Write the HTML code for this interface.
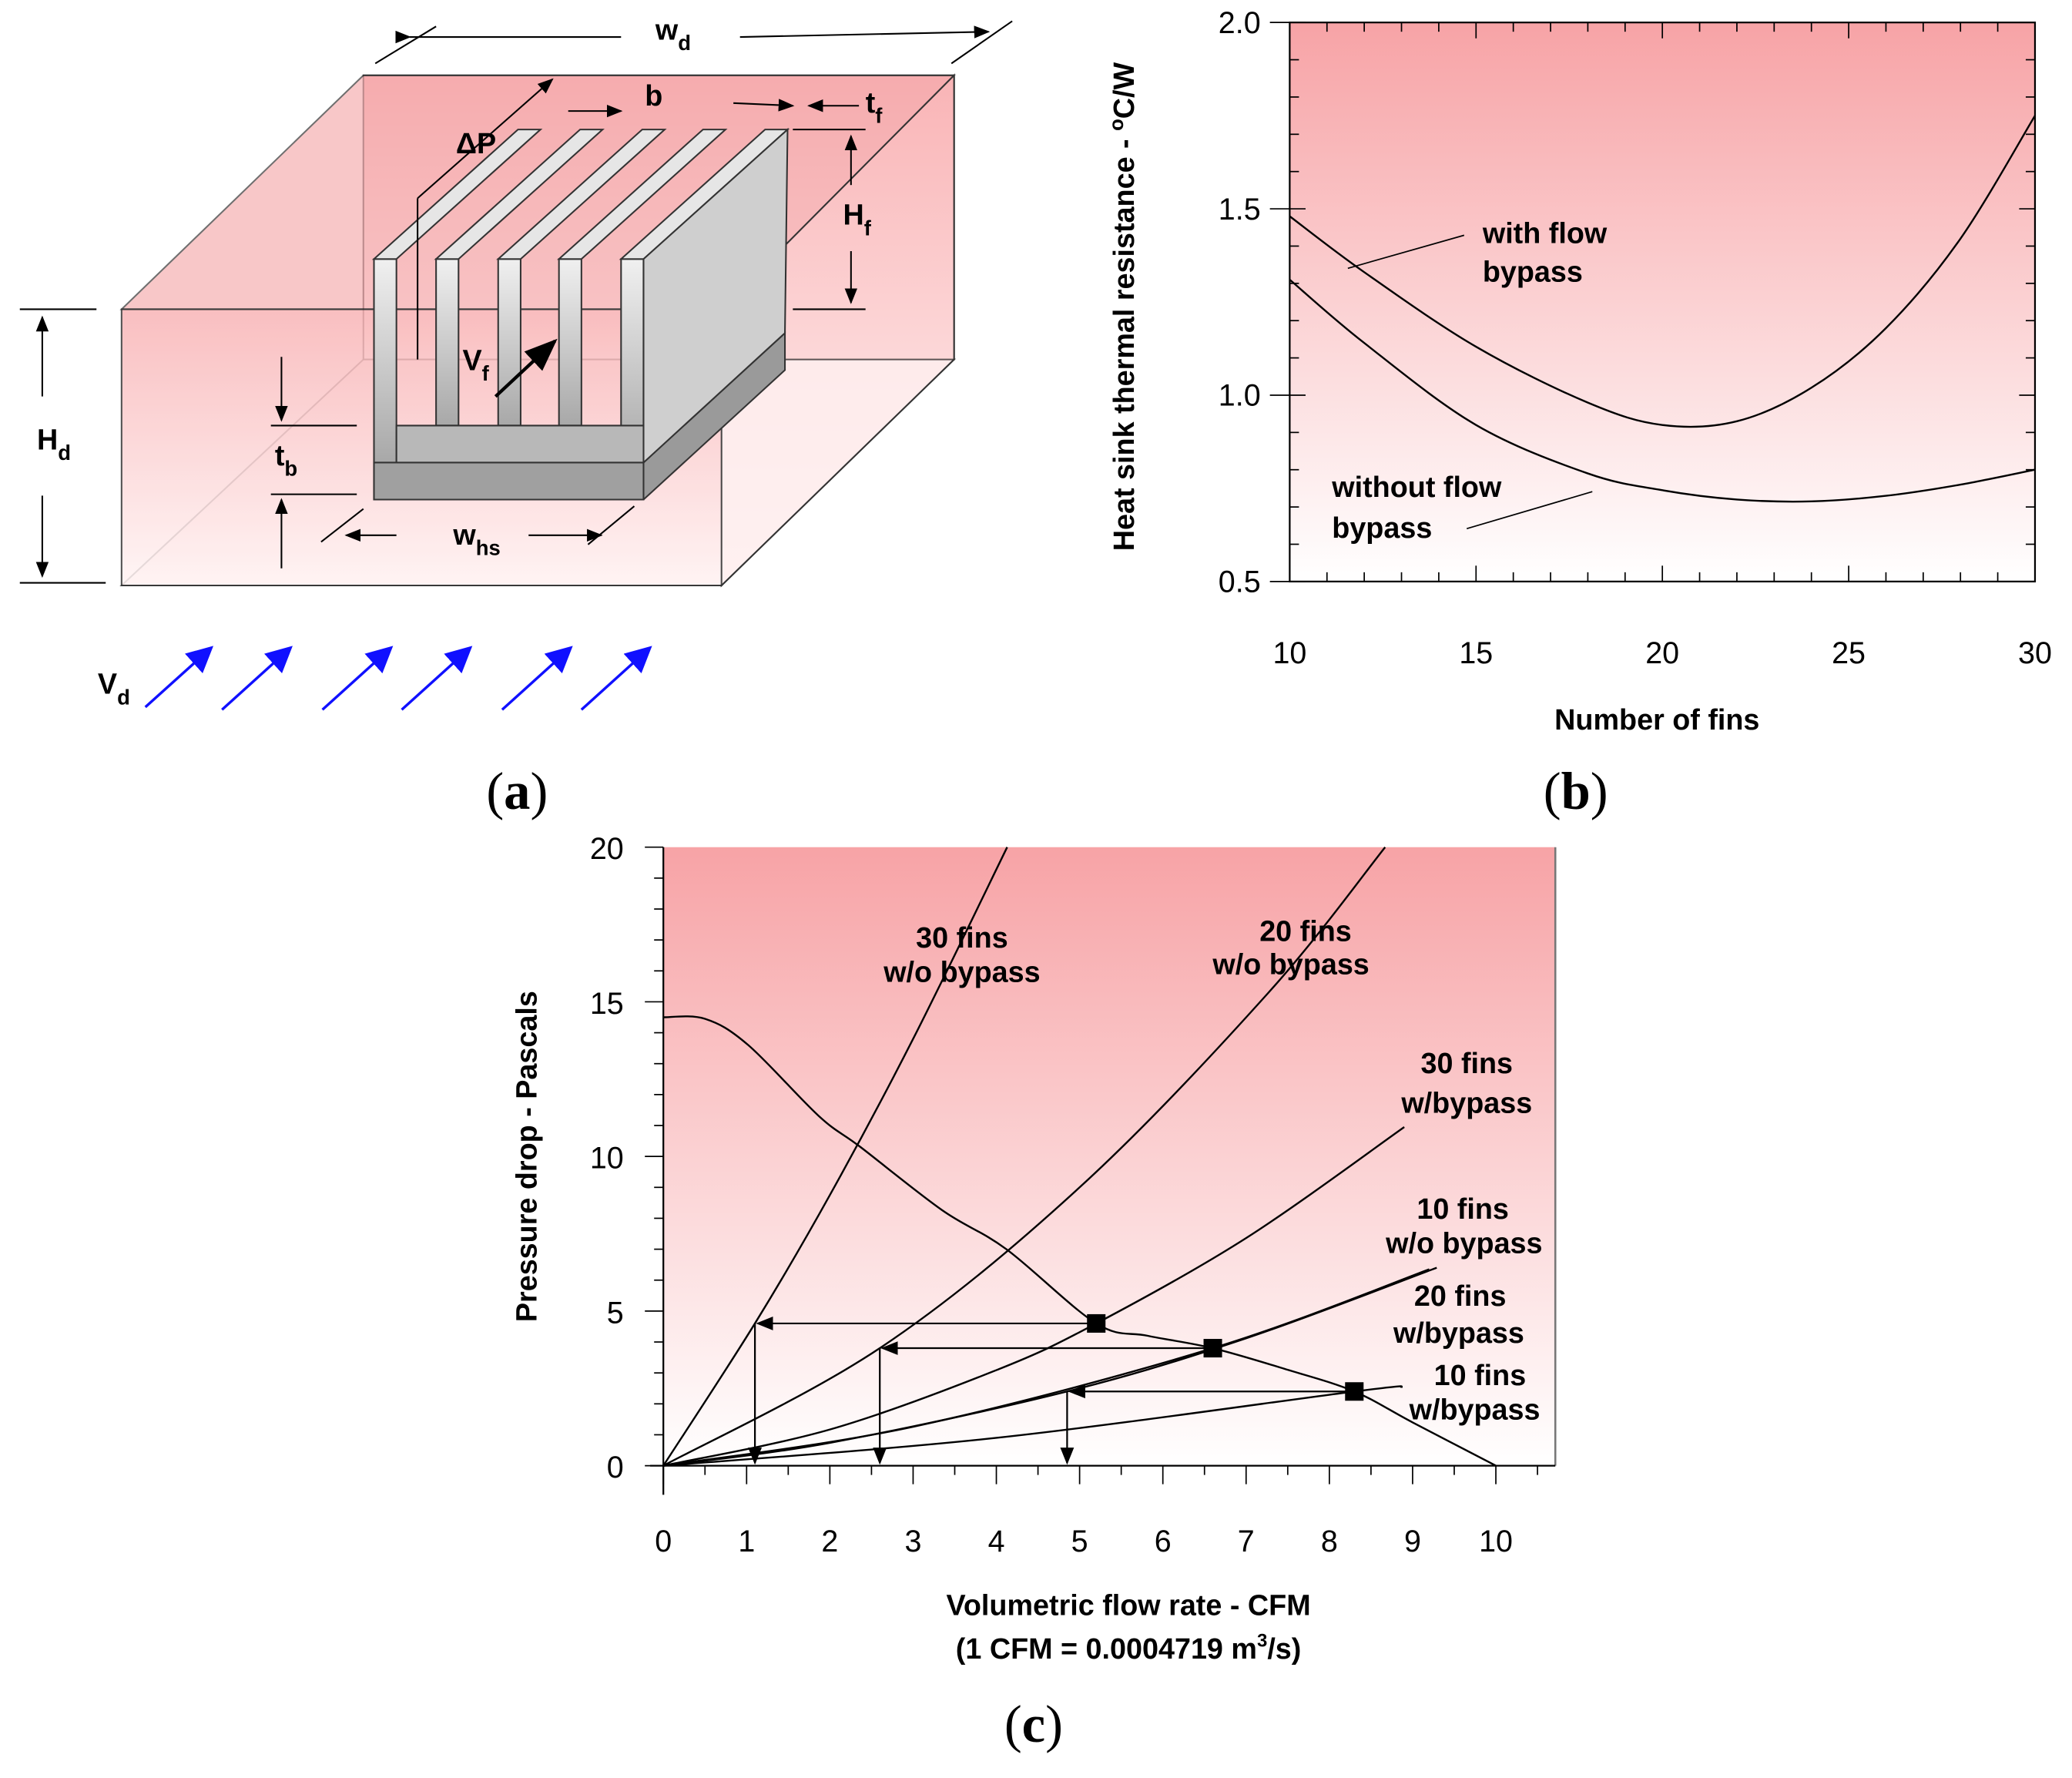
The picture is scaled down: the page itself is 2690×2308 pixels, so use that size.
<!DOCTYPE html>
<html><head><meta charset="utf-8"><style>
html,body{margin:0;padding:0;background:#fff}
svg{display:block}
text{font-family:"Liberation Sans",sans-serif}
.b{font-weight:bold;font-size:22px}
.t{font-size:23px}
.cap{font-family:"Liberation Serif",serif;font-size:40px}
</style></head><body>
<svg id="svg" width="2690" height="2308" viewBox="0 0 1568 1345.3" preserveAspectRatio="none" xmlns="http://www.w3.org/2000/svg">
<defs>
<linearGradient id="pk" x1="0" y1="0" x2="0" y2="1"><stop offset="0" stop-color="#f7a3a6"/><stop offset="1" stop-color="#ffffff"/></linearGradient>
<linearGradient id="pk2" x1="0" y1="0" x2="0" y2="1"><stop offset="0" stop-color="#f9b4b6"/><stop offset="1" stop-color="#fff4f4"/></linearGradient>
<linearGradient id="gr" x1="0" y1="0" x2="0" y2="1"><stop offset="0" stop-color="#f0f0f0"/><stop offset="1" stop-color="#a8a8a8"/></linearGradient>
<marker id="ah" markerWidth="10" markerHeight="10" refX="9" refY="5" orient="auto"><path d="M0,1 L10,5 L0,9 z" fill="#000"/></marker>
<marker id="bh" markerWidth="10" markerHeight="10" refX="9" refY="5" orient="auto"><path d="M0,0 L10,5 L0,10 z" fill="#1010ff"/></marker>
</defs>

<g stroke="#333" stroke-width="1.2">
<polygon points="275,57 722,57 722,272 275,272" fill="url(#pk)"/>
<polygon points="92,234 275,57 722,57 546,234" fill="#f6b0b2" opacity="0.7"/>
<polygon points="546,234 722,57 722,272 546,443" fill="url(#pk2)"/>
<polygon points="92,443 275,272 722,272 546,443" fill="#fff0f0" opacity="0.8"/>
<polygon points="92,234 546,234 546,443 92,443" fill="url(#pk2)" opacity="0.85"/>
<polygon points="283,350 487,350 594,252 594,280 487,378 283,378" fill="#9a9a9a"/>
<polygon points="283,350 487,350 487,378 283,378" fill="#a0a0a0"/>
<g fill="url(#gr)">
<polygon points="283,196 300,196 300,350 283,350"/>
<polygon points="283,196 392,98 409,98 300,196" fill="#e6e6e6"/>
<polygon points="330,196 347,196 347,322 330,322"/>
<polygon points="330,196 439,98 456,98 347,196" fill="#e6e6e6"/>
<polygon points="377,196 394,196 394,322 377,322"/>
<polygon points="377,196 486,98 503,98 394,196" fill="#e6e6e6"/>
<polygon points="423,196 440,196 440,322 423,322"/>
<polygon points="423,196 532,98 549,98 440,196" fill="#e6e6e6"/>
<polygon points="470,196 487,196 487,350 470,350"/>
<polygon points="470,196 579,98 596,98 487,196" fill="#e6e6e6"/>
<polygon points="487,196 596,98 594,252 487,350" fill="#cfcfcf"/>
<polygon points="300,322 487,322 487,350 300,350" fill="#b8b8b8"/>
</g>
</g>
<g stroke="#000" stroke-width="1.2" fill="none">
<line x1="284" y1="48" x2="330" y2="20"/><line x1="720" y1="48" x2="766" y2="16"/>
<line x1="310" y1="28" x2="470" y2="28" marker-start="url(#ah)"/><line x1="560" y1="28" x2="748" y2="24" marker-end="url(#ah)"/>
<line x1="15" y1="234" x2="73" y2="234"/><line x1="15" y1="441" x2="80" y2="441"/>
<line x1="32" y1="300" x2="32" y2="240" marker-end="url(#ah)"/><line x1="32" y1="375" x2="32" y2="436" marker-end="url(#ah)"/>
<line x1="600" y1="98" x2="655" y2="98"/><line x1="600" y1="234" x2="655" y2="234"/>
<line x1="644" y1="140" x2="644" y2="103" marker-end="url(#ah)"/><line x1="644" y1="190" x2="644" y2="229" marker-end="url(#ah)"/>
<line x1="205" y1="322" x2="270" y2="322"/><line x1="205" y1="374" x2="270" y2="374"/>
<line x1="213" y1="270" x2="213" y2="318" marker-end="url(#ah)"/><line x1="213" y1="430" x2="213" y2="378" marker-end="url(#ah)"/>
<line x1="300" y1="405" x2="262" y2="405" marker-end="url(#ah)"/><line x1="400" y1="405" x2="455" y2="405" marker-end="url(#ah)"/>
<line x1="243" y1="410" x2="275" y2="385"/><line x1="445" y1="412" x2="480" y2="383"/>
<line x1="430" y1="84" x2="470" y2="84" marker-end="url(#ah)"/><line x1="555" y1="78" x2="600" y2="80" marker-end="url(#ah)"/>
<line x1="650" y1="80" x2="612" y2="80" marker-end="url(#ah)"/>
<line x1="316" y1="272" x2="316" y2="150"/><line x1="316" y1="150" x2="418" y2="60" marker-end="url(#ah)"/>
<line x1="375" y1="300" x2="420" y2="258" stroke-width="2.5" marker-end="url(#ah)"/>
</g>
<g stroke="#1010ff" stroke-width="2">
<line x1="110" y1="535" x2="160" y2="490" marker-end="url(#bh)"/>
<line x1="168" y1="537" x2="220" y2="490" marker-end="url(#bh)"/>
<line x1="244" y1="537" x2="296" y2="490" marker-end="url(#bh)"/>
<line x1="304" y1="537" x2="356" y2="490" marker-end="url(#bh)"/>
<line x1="380" y1="537" x2="432" y2="490" marker-end="url(#bh)"/>
<line x1="440" y1="537" x2="492" y2="490" marker-end="url(#bh)"/>
</g>
<g class="b">
<text x="496" y="30">w<tspan font-size="16" dy="8">d</tspan></text>
<text x="345" y="116">ΔP</text>
<text x="488" y="80">b</text>
<text x="655" y="85">t<tspan font-size="16" dy="8">f</tspan></text>
<text x="638" y="170">H<tspan font-size="16" dy="8">f</tspan></text>
<text x="28" y="340">H<tspan font-size="16" dy="8">d</tspan></text>
<text x="208" y="352">t<tspan font-size="16" dy="8">b</tspan></text>
<text x="343" y="412">w<tspan font-size="16" dy="8">hs</tspan></text>
<text x="350" y="280">V<tspan font-size="16" dy="8">f</tspan></text>
<text x="74" y="525">V<tspan font-size="16" dy="8">d</tspan></text>
</g>
<text class="cap" x="368" y="612">(<tspan font-weight="bold">a</tspan>)</text>
<text class="cap" x="1168" y="612">(<tspan font-weight="bold">b</tspan>)</text>
<text class="cap" x="760" y="1318">(<tspan font-weight="bold">c</tspan>)</text>

<g id="pb"></g>
<g id="pc"></g>
</svg>
<script>
const NS="http://www.w3.org/2000/svg";
function mk(p,t,a){const e=document.createElementNS(NS,t);for(const k in a)e.setAttribute(k,a[k]);p.appendChild(e);return e;}

// Chart b data
const finsX=[10,12,15,18,20,22,24,26,28,30];
const withBypass=[1.48,1.33,1.13,0.98,0.92,0.93,1.02,1.18,1.42,1.75];
const withoutBypass=[1.31,1.14,0.92,0.79,0.745,0.72,0.715,0.73,0.76,0.80];
const bXTicks=[10,15,20,25,30];
const bYTicks=[0.5,1.0,1.5,2.0];

// Chart c data
const fanX=[0,0.5,1.02,1.87,2.37,3.35,4.12,5.2,5.82,6.6,7.5,8.3,9,10];
const fanY=[14.5,14.45,13.6,11.3,10.3,8.26,7.0,4.6,4.2,3.8,3.1,2.4,1.4,0];
const s30woX=[0,1.1,2,3,4.13], s30woY=[0,4.6,8.75,13.8,20];
const s20woX=[0,2.6,5,7.27,8.67], s20woY=[0,3.8,9.0,15.3,20];
const s30wX=[0,2,4,5.2,7,8.9], s30wY=[0,1.17,3.09,4.6,7.36,10.95];
const s10woX=[0,2,4.85,7,9.29], s10woY=[0,0.74,2.4,4.12,6.4];
const s20wX=[0,3,6.6,9.2], s20wY=[0,1.26,3.8,6.35];
const s10wX=[0,4,8.3,8.88], s10wY=[0,0.9,2.4,2.55];
const opX=[5.2,6.6,8.3], opY=[4.6,3.8,2.4], opFinX=[1.1,2.6,4.85];
const cXTicks=[0,1,2,3,4,5,6,7,8,9,10];
const cYTicks=[0,5,10,15,20];

function smooth(pts){let d="M"+pts[0][0]+","+pts[0][1];
 for(let i=0;i<pts.length-1;i++){const p0=pts[i-1]||pts[i],p1=pts[i],p2=pts[i+1],p3=pts[i+2]||p2;
 d+=" C"+(p1[0]+(p2[0]-p0[0])/6)+","+(p1[1]+(p2[1]-p0[1])/6)+" "+(p2[0]-(p3[0]-p1[0])/6)+","+(p2[1]-(p3[1]-p1[1])/6)+" "+p2[0]+","+p2[1];}
 return d;}

(function(){
const g=document.getElementById('pb');
const L=976,R=1540,T=17,B=440;
const xs=v=>L+(v-10)/20*(R-L), ys=v=>B-(v-0.5)/1.5*(B-T);
let e=mk(g,'rect',{x:L,y:T,width:R-L,height:B-T,fill:'url(#pk)',stroke:'#000','stroke-width':1.3});

for(let v=10;v<=30;v++){const l=v%5==0?12:7;
 mk(g,'line',{x1:xs(v),y1:B,x2:xs(v),y2:B-l,stroke:'#000'});mk(g,'line',{x1:xs(v),y1:T,x2:xs(v),y2:T+l,stroke:'#000'});}
for(let k=5;k<=20;k++){const v=k/10,l=k%5==0?12:7;
 mk(g,'line',{x1:L,y1:ys(v),x2:L+l,y2:ys(v),stroke:'#000'});mk(g,'line',{x1:R,y1:ys(v),x2:R-l,y2:ys(v),stroke:'#000'});
 if(k%5==0)mk(g,'line',{x1:L-15,y1:ys(v),x2:L,y2:ys(v),stroke:'#000'});}
bXTicks.forEach(v=>{e=mk(g,'text',{x:xs(v),y:B+62,'text-anchor':'middle',class:'t'});e.textContent=v;
 });
bYTicks.forEach(v=>{e=mk(g,'text',{x:L-22,y:ys(v)+8,'text-anchor':'end',class:'t'});e.textContent=v.toFixed(1);
 });
[[withBypass,'line-with-bypass'],[withoutBypass,'line-without-bypass']].forEach(([arr,n])=>{
 e=mk(g,'path',{d:smooth(finsX.map((x,i)=>[xs(x),ys(arr[i])])),fill:'none',stroke:'#000','stroke-width':1.4});
 });
mk(g,'line',{x1:1020,y1:203,x2:1108,y2:178,stroke:'#000'});
mk(g,'line',{x1:1110,y1:400,x2:1205,y2:372,stroke:'#000'});
e=mk(g,'text',{x:1122,y:184,class:'b'});e.textContent='with flow';
e=mk(g,'text',{x:1122,y:213,class:'b'});e.textContent='bypass';
e=mk(g,'text',{x:1008,y:376,class:'b'});e.textContent='without flow';
e=mk(g,'text',{x:1008,y:407,class:'b'});e.textContent='bypass';
e=mk(g,'text',{x:1254,y:552,'text-anchor':'middle',class:'b'});e.textContent='Number of fins';
e=mk(g,'text',{x:0,y:0,'text-anchor':'middle',class:'b',transform:'translate(858,232) rotate(-90)'});e.innerHTML='Heat sink thermal resistance  - <tspan font-size="15" dy="-8">o</tspan><tspan dy="8">C/W</tspan>';

})();

(function(){
const g=document.getElementById('pc');
const L=502,R=1177,T=641,B=1109;
const xs=v=>L+v*63, ys=v=>B-v*23.4;
let e=mk(g,'rect',{x:L,y:T,width:R-L,height:B-T,fill:'url(#pk)',stroke:'none'});

mk(g,'line',{x1:R,y1:T,x2:R,y2:B,stroke:'#777','stroke-width':1.5});
mk(g,'line',{x1:L,y1:T,x2:L,y2:B+22,stroke:'#000','stroke-width':1.3});
mk(g,'line',{x1:L-10,y1:B,x2:R,y2:B,stroke:'#000','stroke-width':1.3});
for(let k=0;k<=21;k++){const v=k/2,l=k%2==0?14:7;mk(g,'line',{x1:xs(v),y1:B,x2:xs(v),y2:B+l,stroke:'#000'});}
for(let v=0;v<=20;v++){const l=v%5==0?14:7;mk(g,'line',{x1:L,y1:ys(v),x2:L-l,y2:ys(v),stroke:'#000'});}
cXTicks.forEach(v=>{e=mk(g,'text',{x:xs(v),y:B+65,'text-anchor':'middle',class:'t'});e.textContent=v;
 });
cYTicks.forEach(v=>{e=mk(g,'text',{x:L-30,y:ys(v)+9,'text-anchor':'end',class:'t'});e.textContent=v;
 });
const series=[[fanX,fanY,'fan-curve'],[s30woX,s30woY,'line-30-fins-wo-bypass'],[s20woX,s20woY,'line-20-fins-wo-bypass'],
 [s30wX,s30wY,'line-30-fins-w-bypass'],[s10woX,s10woY,'line-10-fins-wo-bypass'],[s20wX,s20wY,'line-20-fins-w-bypass'],[s10wX,s10wY,'line-10-fins-w-bypass']];
series.forEach(([X,Y,n])=>{e=mk(g,'path',{d:smooth(X.map((x,i)=>[xs(x),ys(Y[i])])),fill:'none',stroke:'#000','stroke-width':1.4});
 });
opX.forEach((x,i)=>{
 e=mk(g,'line',{x1:xs(x),y1:ys(opY[i]),x2:xs(opFinX[i])+2,y2:ys(opY[i]),stroke:'#000','stroke-width':1.3,'marker-end':'url(#ah)'});
 
 e=mk(g,'line',{x1:xs(opFinX[i]),y1:ys(opY[i]),x2:xs(opFinX[i]),y2:B-2,stroke:'#000','stroke-width':1.3,'marker-end':'url(#ah)'});
 
 e=mk(g,'rect',{x:xs(x)-7,y:ys(opY[i])-7,width:14,height:14,fill:'#000'});
 });
const labs=[[728,717,'30 fins','label-30-wo'],[728,743,'w/o bypass'],[988,712,'20 fins','label-20-wo'],[977,737,'w/o bypass'],
 [1110,812,'30 fins','label-30-w'],[1110,842,'w/bypass'],[1107,922,'10 fins','label-10-wo'],[1108,948,'w/o bypass'],
 [1105,988,'20 fins','label-20-w'],[1104,1016,'w/bypass'],[1120,1048,'10 fins','label-10-w'],[1116,1074,'w/bypass']];
labs.forEach(a=>{e=mk(g,'text',{x:a[0],y:a[1],'text-anchor':'middle',class:'b'});e.textContent=a[2];
 if(a[3]){}});
e=mk(g,'text',{x:854,y:1222,'text-anchor':'middle',class:'b'});e.textContent='Volumetric flow rate - CFM';

e=mk(g,'text',{x:854,y:1255,'text-anchor':'middle',class:'b'});e.innerHTML='(1 CFM = 0.0004719 m<tspan font-size="14" dy="-9">3</tspan><tspan dy="9">/s)</tspan>';
e=mk(g,'text',{x:0,y:0,'text-anchor':'middle',class:'b',transform:'translate(406,875) rotate(-90)'});e.textContent='Pressure drop - Pascals';

})();
</script>
</body></html>
